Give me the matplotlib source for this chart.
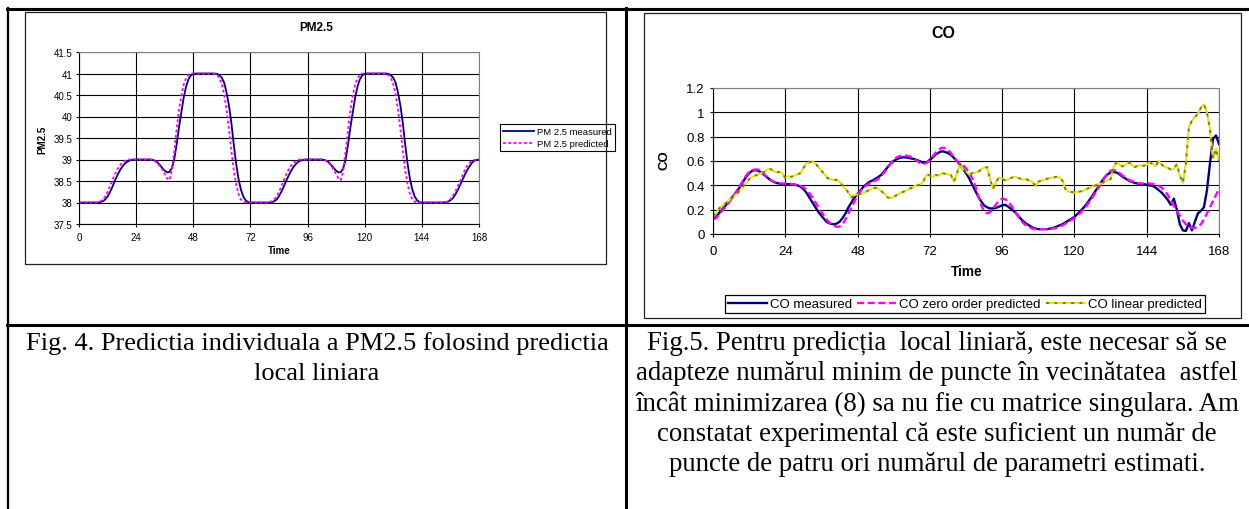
import matplotlib
matplotlib.use("Agg")
import matplotlib.pyplot as plt
from matplotlib.lines import Line2D
from matplotlib.patches import Rectangle

W, H = 1249, 510

# hours 0..168
hours = list(range(169))

pm_measured = [
    38.00, 38.00, 38.00, 38.00, 38.00, 38.00, 38.00, 38.00, 38.00, 38.01, 38.03, 38.07,
    38.14, 38.24, 38.36, 38.50, 38.62, 38.73, 38.82, 38.89, 38.94, 38.97, 38.99, 39.00,
    39.00, 39.00, 39.00, 39.00, 39.00, 39.00, 39.00, 38.99, 38.97, 38.93, 38.87, 38.80,
    38.74, 38.70, 38.71, 38.80, 39.00, 39.35, 39.75, 40.10, 40.45, 40.70, 40.87, 40.96,
    40.99, 41.00, 41.00, 41.00, 41.00, 41.00, 41.00, 41.00, 41.00, 41.00, 40.99, 40.96,
    40.90, 40.78, 40.55, 40.25, 39.85, 39.35, 38.90, 38.55, 38.30, 38.14, 38.05, 38.01,
    38.00, 38.00, 38.00, 38.00, 38.00, 38.00, 38.00, 38.00, 38.00, 38.01, 38.03, 38.07,
    38.15, 38.25, 38.37, 38.50, 38.62, 38.73, 38.82, 38.89, 38.94, 38.97, 38.99, 39.00,
    39.00, 39.00, 39.00, 39.00, 39.00, 39.00, 39.00, 38.99, 38.97, 38.93, 38.87, 38.80,
    38.74, 38.70, 38.71, 38.80, 39.00, 39.35, 39.75, 40.10, 40.45, 40.70, 40.87, 40.96,
    40.99, 41.00, 41.00, 41.00, 41.00, 41.00, 41.00, 41.00, 41.00, 41.00, 40.99, 40.96,
    40.90, 40.78, 40.55, 40.25, 39.85, 39.35, 38.90, 38.55, 38.30, 38.14, 38.05, 38.01,
    38.00, 38.00, 38.00, 38.00, 38.00, 38.00, 38.00, 38.00, 38.00, 38.00, 38.01, 38.02,
    38.05, 38.10, 38.18, 38.28, 38.40, 38.52, 38.64, 38.75, 38.84, 38.92, 38.97, 38.99,
    39.00,
]

pm_predicted = [
    38.00, 38.00, 38.00, 38.00, 38.00, 38.00, 38.00, 38.00, 38.01, 38.03, 38.07, 38.14,
    38.25, 38.38, 38.52, 38.65, 38.76, 38.85, 38.92, 38.96, 38.99, 39.00, 39.00, 39.00,
    39.00, 39.00, 39.00, 39.00, 39.00, 39.00, 39.00, 38.99, 38.96, 38.91, 38.84, 38.76,
    38.66, 38.56, 38.52, 38.75, 39.20, 39.70, 40.15, 40.50, 40.75, 40.90, 40.97, 41.00,
    41.00, 41.00, 41.00, 41.00, 41.00, 41.00, 41.00, 41.00, 41.00, 40.99, 40.96, 40.89,
    40.75, 40.50, 40.15, 39.70, 39.20, 38.75, 38.42, 38.20, 38.07, 38.02, 38.00, 38.00,
    38.00, 38.00, 38.00, 38.00, 38.00, 38.00, 38.00, 38.00, 38.01, 38.03, 38.07, 38.14,
    38.25, 38.38, 38.52, 38.65, 38.76, 38.85, 38.92, 38.96, 38.99, 39.00, 39.00, 39.00,
    39.00, 39.00, 39.00, 39.00, 39.00, 39.00, 39.00, 38.99, 38.96, 38.91, 38.84, 38.76,
    38.66, 38.56, 38.52, 38.75, 39.20, 39.70, 40.15, 40.50, 40.75, 40.90, 40.97, 41.00,
    41.00, 41.00, 41.00, 41.00, 41.00, 41.00, 41.00, 41.00, 41.00, 40.99, 40.96, 40.89,
    40.75, 40.50, 40.15, 39.70, 39.20, 38.75, 38.42, 38.20, 38.07, 38.02, 38.00, 38.00,
    38.00, 38.00, 38.00, 38.00, 38.00, 38.00, 38.00, 38.00, 38.00, 38.00, 38.01, 38.03,
    38.08, 38.15, 38.25, 38.37, 38.50, 38.63, 38.75, 38.85, 38.92, 38.97, 38.99, 39.00,
    39.00,
]

co_measured = [
    0.12, 0.14, 0.17, 0.20, 0.23, 0.26, 0.29, 0.32, 0.35, 0.39, 0.43, 0.47,
    0.50, 0.52, 0.525, 0.52, 0.505, 0.485, 0.465, 0.445, 0.43, 0.42, 0.415, 0.41,
    0.41, 0.41, 0.41, 0.405, 0.40, 0.39, 0.37, 0.34, 0.30, 0.26, 0.22, 0.18,
    0.15, 0.12, 0.095, 0.085, 0.08, 0.085, 0.10, 0.13, 0.17, 0.22, 0.26, 0.30,
    0.33, 0.36, 0.39, 0.41, 0.43, 0.44, 0.455, 0.47, 0.49, 0.52, 0.55, 0.58,
    0.60, 0.615, 0.625, 0.63, 0.63, 0.625, 0.62, 0.615, 0.605, 0.595, 0.585, 0.59,
    0.61, 0.63, 0.655, 0.67, 0.68, 0.675, 0.665, 0.65, 0.625, 0.60, 0.57, 0.535,
    0.50, 0.46, 0.41, 0.36, 0.31, 0.27, 0.235, 0.22, 0.21, 0.21, 0.215, 0.225,
    0.235, 0.24, 0.225, 0.205, 0.185, 0.16, 0.13, 0.105, 0.085, 0.07, 0.055, 0.045,
    0.04, 0.04, 0.04, 0.04, 0.045, 0.05, 0.06, 0.07, 0.08, 0.095, 0.11, 0.125,
    0.14, 0.165, 0.19, 0.215, 0.245, 0.28, 0.315, 0.355, 0.39, 0.43, 0.465, 0.49,
    0.505, 0.51, 0.505, 0.49, 0.47, 0.455, 0.44, 0.43, 0.42, 0.415, 0.41, 0.41,
    0.405, 0.40, 0.395, 0.38, 0.36, 0.34, 0.31, 0.28, 0.24, 0.29, 0.20, 0.08,
    0.03, 0.025, 0.09, 0.03, 0.10, 0.17, 0.19, 0.22, 0.36, 0.58, 0.78, 0.81,
    0.74,
]

co_zero_order = [
    0.12, 0.13, 0.16, 0.19, 0.22, 0.25, 0.285, 0.32, 0.36, 0.40, 0.44, 0.48,
    0.51, 0.525, 0.53, 0.53, 0.515, 0.49, 0.465, 0.445, 0.43, 0.42, 0.415, 0.415,
    0.415, 0.415, 0.41, 0.41, 0.40, 0.395, 0.385, 0.36, 0.335, 0.30, 0.26, 0.22,
    0.18, 0.145, 0.11, 0.085, 0.07, 0.06, 0.06, 0.08, 0.12, 0.17, 0.22, 0.27,
    0.32, 0.355, 0.38, 0.40, 0.415, 0.43, 0.44, 0.455, 0.48, 0.51, 0.545, 0.58,
    0.61, 0.63, 0.64, 0.645, 0.645, 0.64, 0.63, 0.615, 0.595, 0.58, 0.575, 0.585,
    0.61, 0.64, 0.67, 0.695, 0.71, 0.705, 0.69, 0.665, 0.63, 0.60, 0.58, 0.565,
    0.54, 0.51, 0.46, 0.40, 0.32, 0.24, 0.185, 0.17, 0.18, 0.21, 0.245, 0.275,
    0.29, 0.285, 0.265, 0.235, 0.195, 0.155, 0.12, 0.09, 0.07, 0.055, 0.045, 0.04,
    0.04, 0.04, 0.04, 0.04, 0.04, 0.045, 0.05, 0.06, 0.07, 0.085, 0.10, 0.115,
    0.13, 0.15, 0.175, 0.20, 0.23, 0.265, 0.30, 0.34, 0.38, 0.42, 0.46, 0.50,
    0.52, 0.525, 0.52, 0.50, 0.48, 0.46, 0.445, 0.435, 0.425, 0.42, 0.415, 0.415,
    0.415, 0.415, 0.41, 0.405, 0.395, 0.38, 0.355, 0.32, 0.275, 0.23, 0.19, 0.15,
    0.11, 0.08, 0.06, 0.05, 0.05, 0.06, 0.08, 0.12, 0.17, 0.22, 0.27, 0.32,
    0.37,
]

co_linear = [
    0.15, 0.17, 0.21, 0.23, 0.25, 0.27, 0.29, 0.31, 0.33, 0.36, 0.39, 0.42,
    0.45, 0.47, 0.48, 0.49, 0.50, 0.51, 0.53, 0.535, 0.52, 0.505, 0.51, 0.50,
    0.46, 0.475, 0.47, 0.48, 0.49, 0.50, 0.54, 0.58, 0.59, 0.595, 0.58, 0.55,
    0.52, 0.49, 0.46, 0.45, 0.445, 0.445, 0.43, 0.40, 0.37, 0.34, 0.30, 0.32,
    0.325, 0.33, 0.34, 0.35, 0.365, 0.375, 0.38, 0.37, 0.35, 0.33, 0.30, 0.295,
    0.305, 0.32, 0.335, 0.345, 0.355, 0.37, 0.38, 0.395, 0.40, 0.41, 0.44, 0.49,
    0.48, 0.47, 0.485, 0.48, 0.50, 0.495, 0.49, 0.485, 0.43, 0.50, 0.575, 0.53,
    0.515, 0.49, 0.50, 0.505, 0.51, 0.53, 0.545, 0.55, 0.45, 0.37, 0.43, 0.465,
    0.455, 0.44, 0.45, 0.46, 0.47, 0.465, 0.455, 0.445, 0.45, 0.44, 0.43, 0.395,
    0.43, 0.44, 0.445, 0.455, 0.46, 0.465, 0.47, 0.465, 0.44, 0.37, 0.35, 0.345,
    0.34, 0.345, 0.35, 0.355, 0.37, 0.38, 0.39, 0.40, 0.41, 0.415, 0.43, 0.44,
    0.45, 0.55, 0.59, 0.57, 0.555, 0.57, 0.59, 0.57, 0.55, 0.56, 0.565, 0.56,
    0.57, 0.59, 0.575, 0.56, 0.60, 0.57, 0.55, 0.545, 0.53, 0.535, 0.575, 0.48,
    0.42, 0.58, 0.88, 0.93, 0.96, 0.99, 1.04, 1.065, 1.00, 0.86, 0.62, 0.70,
    0.60,
]

time_ticks = [0, 24, 48, 72, 96, 120, 144, 168]
pm_yticks = [37.5, 38, 38.5, 39, 39.5, 40, 40.5, 41, 41.5]
pm_ylabels = ["37.5", "38", "38.5", "39", "39.5", "40", "40.5", "41", "41.5"]
co_yticks = [0, 0.2, 0.4, 0.6, 0.8, 1.0, 1.2]
co_ylabels = ["0", "0.2", "0.4", "0.6", "0.8", "1", "1.2"]

caption4 = ["Fig. 4. Predictia individuala a PM2.5 folosind predictia",
            "local liniara"]
caption5 = ["Fig.5. Pentru predicția  local liniară, este necesar să se",
            "adapteze numărul minim de puncte în vecinătatea  astfel",
            "încât minimizarea (8) sa nu fie cu matrice singulara. Am",
            "constatat experimental că este suficient un număr de",
            "puncte de patru ori numărul de parametri estimati."]

plt.rcParams['font.family'] = ['Liberation Sans', 'DejaVu Sans']
serif = ['Liberation Serif', 'DejaVu Serif']


def fx(x):
    return x / W


def fy(y):
    return 1 - y / H


def box(l, t, r, b):
    return [l / W, 1 - b / H, (r - l) / W, (b - t) / H]


fig = plt.figure(figsize=(W / 100, H / 100), dpi=100)

# table borders
def fig_line(xs, ys, lw):
    fig.add_artist(Line2D([fx(x) for x in xs], [fy(y) for y in ys],
                          color='black', lw=lw, transform=fig.transFigure))


fig_line([7, W], [10, 10], 2.2)
fig_line([7, W], [325.5, 325.5], 2.2)
fig_line([8, 8], [9, H], 1.6)
fig_line([625.5, 625.5], [9, H], 2.2)

# chart area frames
for l, t, r, b in [(25, 13, 606, 265), (644, 14, 1241, 319)]:
    fig.add_artist(Rectangle((fx(l), fy(b)), (r - l) / W, (b - t) / H, fill=False,
                             edgecolor='#222222', lw=0.9, transform=fig.transFigure))


def style(ax, fs, xpad, ypad):
    ax.set_xlim(0, 168)
    ax.set_xticks(time_ticks)
    ax.grid(True, color='black', lw=0.8)
    ax.set_axisbelow(True)
    for s in ['top', 'right']:
        ax.spines[s].set_color('#808080')
        ax.spines[s].set_linewidth(0.8)
    for s in ['left', 'bottom']:
        ax.spines[s].set_color('black')
        ax.spines[s].set_linewidth(0.8)
    ax.tick_params(direction='out', length=2.2, width=0.8, labelsize=fs)
    ax.tick_params(axis='x', pad=xpad)
    ax.tick_params(axis='y', pad=ypad)


# ---- PM2.5 chart ----
ax1 = fig.add_axes(box(79, 53, 479, 225))
ax1.plot(hours, pm_measured, color='#000080', lw=1.3, label='PM 2.5 measured')
ax1.plot(hours, pm_predicted, color='#FF00FF', lw=1.3, linestyle=(0, (1.6, 1.3)),
         label='PM 2.5 predicted')
ax1.set_ylim(37.5, 41.5)
ax1.set_yticks(pm_yticks)
ax1.set_yticklabels(pm_ylabels)
style(ax1, 7, 3.5, 2.5)
fig.text(fx(316), fy(28), 'PM2.5', ha='center', va='center', fontsize=8.5, weight='bold')
fig.text(fx(42), fy(140), 'PM2.5', rotation=90, ha='center', va='center',
         fontsize=7, weight='bold')
fig.text(fx(279), fy(251), 'Time', ha='center', va='center', fontsize=7, weight='bold')
leg1 = ax1.legend(loc='center left', bbox_to_anchor=(fx(495), fy(138.5)),
                  bbox_transform=fig.transFigure, fontsize=6.8, handlelength=3.3,
                  handletextpad=0.3, labelspacing=0.35, borderpad=0.35,
                  fancybox=False, framealpha=1, edgecolor='black')
leg1.get_frame().set_linewidth(0.8)

# ---- CO chart ----
ax2 = fig.add_axes(box(713, 89, 1219, 235))
ax2.plot(hours, co_measured, color='#000080', lw=1.7, label='CO measured')
ax2.plot(hours, co_zero_order, color='#FF00FF', lw=1.7, linestyle=(0, (3, 1.5)),
         label='CO zero order predicted')
ax2.plot(hours, co_linear, color='#808000', lw=1.5, linestyle=(0, (1.5, 2.5)),
         gapcolor='#E6E600', label='CO linear predicted')
ax2.set_ylim(0, 1.2)
ax2.set_yticks(co_yticks)
ax2.set_yticklabels(co_ylabels)
style(ax2, 9.5, 6, 4)
fig.text(fx(943), fy(34), 'CO', ha='center', va='center', fontsize=11.5, weight='bold')
fig.text(fx(665), fy(160), 'CO', rotation=90, ha='center', va='center',
         fontsize=9.5, weight='bold')
fig.text(fx(967), fy(272), 'Time', ha='center', va='center', fontsize=9.8, weight='bold')
leg2 = ax2.legend(loc='center', bbox_to_anchor=(fx(965), fy(305)),
                  bbox_transform=fig.transFigure, ncol=3, fontsize=9.5,
                  handlelength=3.0, handletextpad=0.2, columnspacing=0.4,
                  borderpad=0.2, fancybox=False, framealpha=1, edgecolor='black')
leg2.get_frame().set_linewidth(0.9)

# ---- captions ----
for i, line in enumerate(caption4):
    fig.text(fx(317), fy(350 + 30.5 * i), line, ha='center', va='baseline',
             family=serif, fontsize=19)
for i, line in enumerate(caption5):
    fig.text(fx(937), fy(350 + 30.3 * i), line, ha='center', va='baseline',
             family=serif, fontsize=19.3)

fig.savefig('out.png', dpi=100)
